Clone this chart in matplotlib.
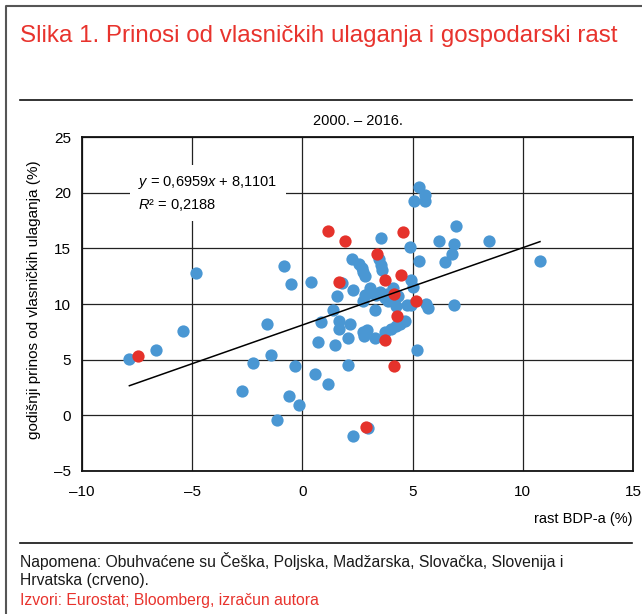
import matplotlib
matplotlib.use("Agg")
import matplotlib.pyplot as plt
from matplotlib import font_manager as fm
from matplotlib.lines import Line2D
import numpy as np

# ---------------- data ----------------
blue_x = [5.28, 5.58, 5.08, 5.58,
          6.97, 3.57, 6.18, 6.89, 8.48, 4.88, 6.79, 5.28, 6.49, 10.78,
          -4.82, -0.82, -0.53, 0.37, 1.78, 2.28, 1.57, 1.37,
          2.25, 2.55, 2.70, 2.75, 2.85,
          3.46, 3.55, 3.60,
          4.95, 5.00,
          2.82, 3.05, 3.12, 2.73, 3.52, 3.33, 3.85, 4.10, 3.75, 4.35, 3.90, 4.23, 3.30,
          4.75, 4.95, 5.60, 5.70, 6.89,
          0.85, 1.68, 1.68, 2.15, 2.73, 2.95, 2.78, 3.30, 3.76, 4.00, 4.24, 4.45, 4.65,
          0.70, 1.50, 2.07, 5.18,
          -7.85, -6.64, -5.43, -1.62, -1.44, -2.25, -0.33, 0.58, 1.18, -2.74, -0.63,
          -0.14, -1.13, 2.09, 2.28, 2.99]
blue_y = [20.5, 19.85, 19.3, 19.3,
          17.0, 15.95, 15.65, 15.4, 15.65, 15.1, 14.5, 13.9, 13.75, 13.9,
          12.8, 13.4, 11.8, 11.95, 11.9, 11.3, 10.7, 9.45,
          14.05, 13.6, 13.2, 12.9, 12.55,
          14.05, 13.5, 13.1,
          12.15, 11.5,
          10.85, 11.4, 11.0, 10.25, 11.05, 10.85, 10.9, 11.4, 10.5, 10.7, 10.25, 9.8, 9.45,
          9.95, 9.95, 10.0, 9.6, 9.95,
          8.4, 8.45, 7.75, 8.2, 7.5, 7.7, 7.15, 6.95, 7.5, 7.75, 8.0, 8.2, 8.45,
          6.6, 6.3, 6.95, 5.9,
          5.05, 5.88, 7.6, 8.2, 5.43, 4.68, 4.44, 3.72, 2.8, 2.13, 1.74,
          0.87, -0.45, 4.55, -1.85, -1.2]

red_x = [1.15, 1.95, 4.58, 3.37, 1.68, 3.76, 4.48, 4.17, 5.16, 4.28, 3.76, 4.17, 2.89, -7.45]
red_y = [16.6, 15.7, 16.45, 14.5, 12.0, 12.15, 12.6, 10.9, 10.3, 8.95, 6.8, 4.4, -1.1, 5.34]

slope = 0.6959
intercept = 8.1101
r2_text = "0,2188"

x_ticks = [-10, -5, 0, 5, 10, 15]
y_ticks = [-5, 0, 5, 10, 15, 20, 25]

title = "Slika 1. Prinosi od vlasničkih ulaganja i gospodarski rast"
subtitle = "2000. – 2016."
x_label = "rast BDP-a (%)"
y_label = "godišnji prinos od vlasničkih ulaganja (%)"
note1 = "Napomena: Obuhvaćene su Češka, Poljska, Madžarska, Slovačka, Slovenija i"
note2 = "Hrvatska (crveno)."
source = "Izvori: Eurostat; Bloomberg, izračun autora"

# ---------------- style ----------------
names = {f.name for f in fm.fontManager.ttflist}
narrow = "Liberation Sans Narrow" if "Liberation Sans Narrow" in names else "Liberation Sans"
regular = "Liberation Sans"
plt.rcParams["font.family"] = [narrow, "DejaVu Sans"]
plt.rcParams["mathtext.fontset"] = "custom"
plt.rcParams["mathtext.rm"] = narrow
plt.rcParams["mathtext.it"] = narrow + ":italic"

BLUE = "#4A97D3"
RED = "#E5322B"
TRED = "#E8332D"

W, H = 642, 614
fig = plt.figure(figsize=(W / 100, H / 100), dpi=100)

def fx(px):
    return px / W

def fy(py):
    return 1 - py / H

ax_l, ax_r, ax_t, ax_b = 82, 633, 137.3, 470.7
ax = fig.add_axes([fx(ax_l), fy(ax_b), fx(ax_r - ax_l), (ax_b - ax_t) / H])
ax.set_xlim(-10, 15)
ax.set_ylim(-5, 25)
ax.set_xticks(x_ticks)
ax.set_yticks(y_ticks)
ax.set_xticklabels([f"{v:d}".replace("-", "\u2013") for v in x_ticks])
ax.set_yticklabels([f"{v:d}".replace("-", "\u2013") for v in y_ticks])
ax.tick_params(length=0, labelsize=11, pad=10)
ax.tick_params(axis="y", pad=8)
ax.grid(True, color="#222222", linewidth=0.9, zorder=0)
ax.set_axisbelow(True)
for s in ax.spines.values():
    s.set_linewidth(1.3)
    s.set_color("#111111")

ax.scatter(blue_x, blue_y, s=78, color=BLUE, linewidths=0, zorder=3)
ax.scatter(red_x, red_y, s=78, color=RED, linewidths=0, zorder=4)

all_x = np.array(blue_x + red_x)
lx = np.array([all_x.min(), all_x.max()])
ax.plot(lx, slope * lx + intercept, color="black", linewidth=1.1, zorder=5)

eq = (r"$y$ = " + f"{slope:.4f}".replace(".", ",") + r"$x$ + " +
      f"{intercept:.4f}".replace(".", ",") + "\n" + r"$R$² = " + r2_text)
ax.text(-7.45, 19.95, eq, fontsize=10.5, va="center", ha="left", linespacing=1.45,
        zorder=2, bbox=dict(fc="white", ec="none", pad=6))

fig.text(fx((ax_l + ax_r) / 2), fy(121), subtitle, ha="center", va="center", fontsize=10.5)
fig.text(fx(ax_r), fy(519), x_label, ha="right", va="center", fontsize=10.5)
fig.text(fx(34), fy(300), y_label, ha="center", va="center", rotation=90, fontsize=11)

# title and footer
t = fig.text(fx(20), fy(36), title, ha="left", va="center", fontsize=15,
             color=TRED, family=[regular, "DejaVu Sans"])
n1 = fig.text(fx(20.5), fy(561), note1, ha="left", va="center", fontsize=11,
              color="#1a1a1a", family=[regular, "DejaVu Sans"])
n2 = fig.text(fx(20.5), fy(581), note2, ha="left", va="center", fontsize=11,
              color="#1a1a1a", family=[regular, "DejaVu Sans"])
n3 = fig.text(fx(20.5), fy(600), source, ha="left", va="center", fontsize=11,
              color=TRED, family=[regular, "DejaVu Sans"])

fig.canvas.draw()
r = fig.canvas.get_renderer()
bw = t.get_window_extent(r).width
t.set_fontsize(15 * 601 / bw)
bw = n1.get_window_extent(r).width
fs = 11 * 540 / bw
for tt in (n1, n2, n3):
    tt.set_fontsize(fs)

# rules and frame
fig.add_artist(Line2D([fx(20), fx(632)], [fy(100), fy(100)], color="#111111", lw=1.2))
fig.add_artist(Line2D([fx(20), fx(632)], [fy(543), fy(543)], color="#111111", lw=1.2))
fig.add_artist(Line2D([fx(6), fx(6), fx(642)], [fy(614), fy(6), fy(6)], color="#555555", lw=1.5))

fig.savefig("out.png", dpi=100)
